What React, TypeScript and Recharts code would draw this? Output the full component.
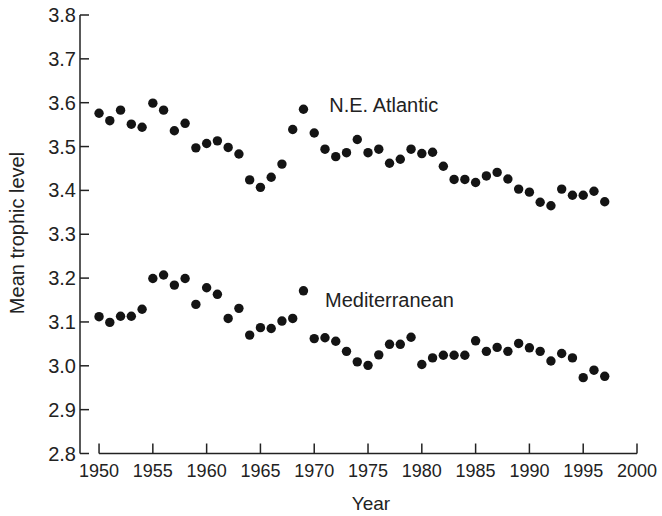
import React from 'react';
import { ScatterChart, Scatter, XAxis, YAxis, ReferenceLine, ReferenceDot } from 'recharts';

const years = [
  1950, 1951, 1952, 1953, 1954, 1955, 1956, 1957, 1958, 1959,
  1960, 1961, 1962, 1963, 1964, 1965, 1966, 1967, 1968, 1969,
  1970, 1971, 1972, 1973, 1974, 1975, 1976, 1977, 1978, 1979,
  1980, 1981, 1982, 1983, 1984, 1985, 1986, 1987, 1988, 1989,
  1990, 1991, 1992, 1993, 1994, 1995, 1996, 1997,
];

const atlantic = [
  3.576, 3.559, 3.583, 3.551, 3.544, 3.599, 3.583, 3.536, 3.553, 3.497,
  3.507, 3.513, 3.498, 3.483, 3.424, 3.407, 3.43, 3.46, 3.539, 3.585,
  3.531, 3.494, 3.477, 3.486, 3.516, 3.486, 3.494, 3.462, 3.471, 3.494,
  3.484, 3.487, 3.455, 3.425, 3.425, 3.418, 3.433, 3.441, 3.426, 3.403,
  3.396, 3.373, 3.365, 3.403, 3.389, 3.389, 3.398, 3.374,
];

const mediterranean = [
  3.112, 3.099, 3.113, 3.113, 3.129, 3.199, 3.207, 3.184, 3.199, 3.14,
  3.178, 3.163, 3.108, 3.131, 3.07, 3.087, 3.085, 3.102, 3.108, 3.171,
  3.062, 3.064, 3.056, 3.033, 3.009, 3.001, 3.025, 3.049, 3.049, 3.065,
  3.003, 3.018, 3.024, 3.024, 3.024, 3.057, 3.033, 3.042, 3.033, 3.051,
  3.041, 3.033, 3.011, 3.028, 3.018, 2.973, 2.99, 2.976,
];

const yearTicks = [1950, 1955, 1960, 1965, 1970, 1975, 1980, 1985, 1990, 1995, 2000];
const levelTicks = [2.8, 2.9, 3.0, 3.1, 3.2, 3.3, 3.4, 3.5, 3.6, 3.7, 3.8];

const atlanticData = years.map((year, i) => ({ year, level: atlantic[i] }));
const medData = years.map((year, i) => ({ year, level: mediterranean[i] }));

const INK = '#222';
const FONT = '"Liberation Sans", Arial, Helvetica, sans-serif';

const XTick = (props: any) => {
  const { x, y, payload } = props;
  return (
    <g>
      <line x1={x} x2={x} y1={y} y2={y - 10} stroke={INK} strokeWidth={1.5} />
      <text x={x} y={y + 23} textAnchor="middle" fontSize={18} fill={INK} fontFamily={FONT}>
        {payload.value}
      </text>
    </g>
  );
};

const YTick = (props: any) => {
  const { x, y, payload } = props;
  return (
    <g>
      <line x1={x} x2={x + 9} y1={y} y2={y} stroke={INK} strokeWidth={1.5} />
      <text x={x - 4} y={y + 7} textAnchor="end" fontSize={20} fill={INK} fontFamily={FONT}>
        {Number(payload.value).toFixed(1)}
      </text>
    </g>
  );
};

const dot = (p: any) => <circle cx={p.cx} cy={p.cy} r={4.7} fill="#141414" />;

const note = (label: string) => (p: any) => (
  <text x={p.cx} y={p.cy} fontSize={20} fill={INK} fontFamily={FONT}>
    {label}
  </text>
);

export default function App() {
  return (
    <div style={{ position: 'absolute', left: 0, top: 0, background: '#fff' }}>
      <ScatterChart width={662} height={516} margin={{ top: 15, right: 25, bottom: 0, left: 0 }}>
        <XAxis
          type="number"
          dataKey="year"
          domain={[1948.23, 2000]}
          ticks={yearTicks}
          axisLine={false}
          tickLine={false}
          tickSize={0}
          tickMargin={0}
          height={62.5}
          tick={<XTick />}
          label={{
            content: () => (
              <text x={371} y={510} textAnchor="middle" fontSize={19} fill={INK} fontFamily={FONT}>
                Year
              </text>
            ),
          }}
        />
        <YAxis
          type="number"
          dataKey="level"
          domain={[2.8, 3.8]}
          ticks={levelTicks}
          width={80}
          axisLine={{ stroke: INK, strokeWidth: 1.5 }}
          tickLine={false}
          tickSize={0}
          tickMargin={0}
          tick={<YTick />}
          label={{
            content: () => (
              <text
                transform="translate(24,233) rotate(-90)"
                textAnchor="middle"
                fontSize={20}
                fill={INK}
                fontFamily={FONT}
              >
                Mean trophic level
              </text>
            ),
          }}
        />
        <ReferenceLine
          segment={[{ x: 1950, y: 2.8 }, { x: 2000, y: 2.8 }]}
          stroke={INK}
          strokeWidth={1.5}
        />
        <Scatter data={atlanticData} shape={dot} isAnimationActive={false} />
        <Scatter data={medData} shape={dot} isAnimationActive={false} />
        <ReferenceDot x={1971.4} y={3.579} r={0} shape={note('N.E. Atlantic')} />
        <ReferenceDot x={1971.0} y={3.135} r={0} shape={note('Mediterranean')} />
      </ScatterChart>
    </div>
  );
}
